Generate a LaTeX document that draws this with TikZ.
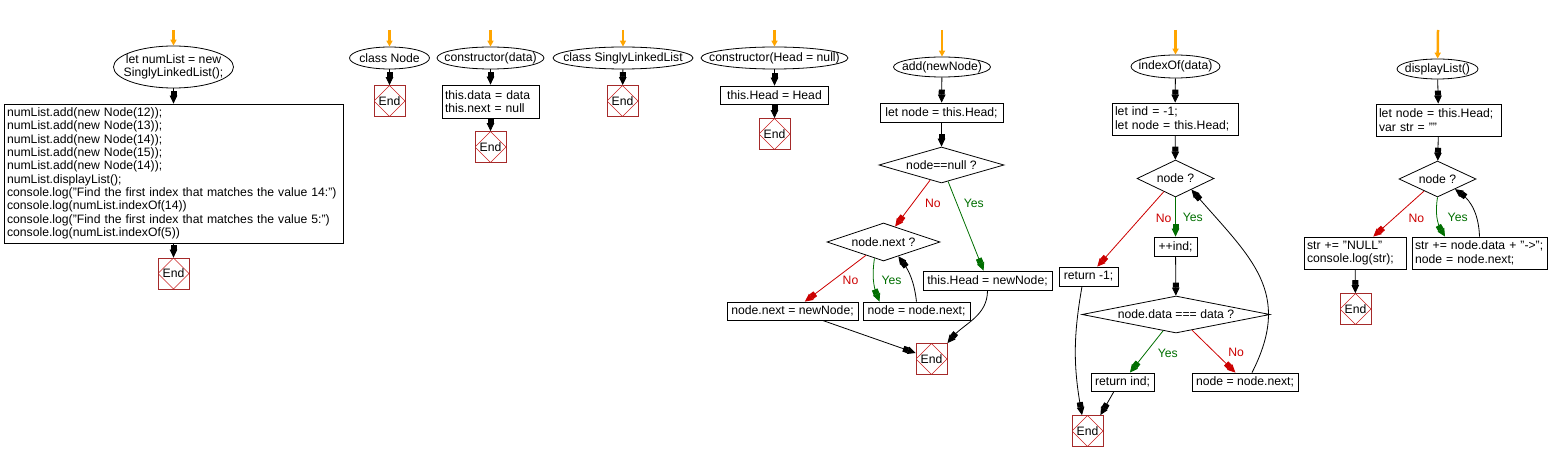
\documentclass[tikz,border=0pt]{standalone}
\usepackage{fontspec}
\setmainfont{Liberation Sans}
\usetikzlibrary{shapes.geometric,arrows.meta,positioning}

\definecolor{startor}{RGB}{255,165,0}
\definecolor{nored}{RGB}{204,0,0}
\definecolor{yesgreen}{RGB}{0,110,0}
\definecolor{endred}{RGB}{165,42,42}
\definecolor{endline}{RGB}{200,30,30}

% text wider than its ellipse
\newcommand{\nw}[1]{\makebox[0pt]{#1}}

\tikzset{
  every node/.style={font=\fontsize{12.2}{13.33}\selectfont},
  >={Rectangle[length=5pt,width=6pt]Triangle[length=8pt,width=7.5pt]},
  term/.style={ellipse,draw,inner sep=0pt,minimum height=22},
  proc/.style={rectangle,draw,inner sep=3pt,minimum height=19},
  dec/.style={diamond,draw,inner sep=0pt},
  endbox/.style={rectangle,draw=endred,minimum size=31,inner sep=0pt,
    path picture={\draw[endline,line width=0.6pt] (path picture bounding box.north)
      -- (path picture bounding box.east) -- (path picture bounding box.south)
      -- (path picture bounding box.west) -- cycle;}},
  entry/.style={startor,line width=2.5pt,-{Triangle[length=6pt,width=6pt]}},
  nolbl/.style={text=nored,inner sep=1pt},
  yeslbl/.style={text=yesgreen,inner sep=1pt}
}

\begin{document}
\begin{tikzpicture}[x=1pt,y=-1pt,line width=0.8pt]

\useasboundingbox (0,0) rectangle (1549,462);

% main program

\coordinate (t1) at (173.5,30);

\node[term,minimum width=120,minimum height=42,align=center] (s1) at (173.5,67) {\nw{let numList = new}\\\nw{SinglyLinkedList();}};

\node[proc,align=left,text width=333,minimum height=139] (b1) at (173.5,173.5) {numList.add(new Node(12));\\numList.add(new Node(13));\\numList.add(new Node(14));\\numList.add(new Node(15));\\numList.add(new Node(14));\\numList.displayList();\\console.log("Find the first index that matches the value 14:")\\console.log(numList.indexOf(14))\\console.log("Find the first index that matches the value 5:")\\console.log(numList.indexOf(5))};

\node[endbox] (e1) at (173.5,273.5) {End};

% class Node

\coordinate (t2) at (389.5,30);

\node[term,minimum width=80] (s2) at (389.5,58) {\nw{class Node}};

\node[endbox] (e2) at (389.5,101) {End};

% constructor(data)

\coordinate (t3) at (490.5,30);

\node[term,minimum width=107] (s3) at (490.5,58) {\nw{constructor(data)}};

\node[proc,align=left,text width=91,minimum height=33] (b3) at (490.5,101.5) {this.data = data\\this.next = null};

\node[endbox] (e3) at (490.5,147) {End};

% class SinglyLinkedList

\coordinate (t4) at (623,30);

\node[term,minimum width=140] (s4) at (623,58) {\nw{class SinglyLinkedList}};

\node[endbox] (e4) at (622.5,101) {End};

% constructor(Head = null)

\coordinate (t5) at (774.5,30);

\node[term,minimum width=147] (s5) at (774.5,58) {\nw{constructor(Head = null)}};

\node[proc,minimum width=108,minimum height=18] (b5) at (774.5,95) {this.Head = Head};

\node[endbox] (e5) at (774.5,134) {End};

% add(newNode)

\coordinate (t6) at (942,30);

\node[term,minimum width=97,minimum height=20] (s6) at (942,67) {\nw{add(newNode)}};

\node[proc,minimum width=123] (b6) at (941.5,112.5) {let node = this.Head;};

\node[dec,aspect=3.47,minimum width=125,minimum height=36] (d6) at (941.5,165) {node==null ?};

\node[dec,aspect=3,minimum width=113,minimum height=38] (d7) at (883.5,242) {node.next ?};

\node[proc,minimum width=129] (b7) at (987.5,280.5) {this.Head = newNode;};

\node[proc,minimum width=131,minimum height=18] (b8) at (792.5,311) {node.next = newNode;};

\node[proc,minimum width=107,minimum height=18] (b9) at (916.5,311) {node = node.next;};

\node[endbox] (e6) at (931.5,359) {End};

% indexOf(data)

\coordinate (t7) at (1175.5,30);

\node[term,minimum width=89,minimum height=23] (s7) at (1175.5,66.5) {\nw{indexOf(data)}};

\node[proc,align=left,text width=120,minimum height=32] (b10) at (1175,119) {let ind = -1;\\let node = this.Head;};

\node[dec,aspect=2.08,minimum width=77,minimum height=37] (d8) at (1175.5,178.5) {node ?};

\node[proc,minimum width=43] (b11) at (1175.5,246.5) {++ind;};

\node[proc,minimum width=59] (b12) at (1088.5,276.5) {return -1;};

\node[dec,aspect=5.1,minimum width=188,minimum height=37] (d9) at (1176,314.5) {node.data === data ?};

\node[proc,minimum width=63,minimum height=18] (b13) at (1122.5,382) {return ind;};

\node[proc,minimum width=106,minimum height=18] (b14) at (1245,382) {node = node.next;};

\node[endbox] (e7) at (1087.5,431) {End};

% displayList()

\coordinate (t8) at (1438,30);

\node[term,minimum width=81,minimum height=20] (s8) at (1437.5,69) {\nw{displayList()}};

\node[proc,align=left,text width=119,minimum height=32] (b15) at (1438.5,120) {let node = this.Head;\\var str = ""};

\node[dec,aspect=2.1,minimum width=77,minimum height=36] (d10) at (1437.5,179) {node ?};

\node[proc,align=left,text width=96,minimum height=32] (b16) at (1355,253) {str += "NULL"\\console.log(str);};

\node[proc,align=left,text width=129,minimum height=32] (b17) at (1479.5,253) {str += node.data + "->";\\node = node.next;};

\node[endbox] (e8) at (1355.5,309) {End};

\draw[]

  % entry arrows

  (t1) edge[entry] (s1)
  (t2) edge[entry] (s2)
  (t3) edge[entry] (s3)
  (t4) edge[entry] (s4)
  (t5) edge[entry] (s5)
  (t6) edge[entry] (s6)
  (t7) edge[entry] (s7)
  (t8) edge[entry] (s8)

  % main program

  (s1) edge[->] (b1)
  (b1) edge[->] (e1)

  % classes and constructors

  (s2) edge[->] (e2)
  (s3) edge[->] (b3)
  (b3) edge[->] (e3)
  (s4) edge[->] (e4)
  (s5) edge[->] (b5)
  (b5) edge[->] (e5)

  % From add to the null test

  (s6) edge[->] (b6)
  (b6) edge[->] (d6)

  % From node==null to node.next / this.Head

  (d6) edge[->,nored] node[nolbl,right=11pt] {No} (d7)
  (d6) edge[->,yesgreen] node[yeslbl,pos=0.25,right=5.5pt] {Yes} (b7)

  % From node.next to its two boxes

  (d7) edge[->,nored] node[nolbl,pos=0.55,right=9pt] {No} (b8)
  (d7.241) edge[->,yesgreen,bend right=15] node[yeslbl,right=6.5pt] {Yes} ([xshift=-37pt]b9.north)

  % back to node.next

  (b9.north) edge[->,bend right=15] (d7.316)

  % to End

  ([xshift=30pt]b8.south) edge[->] ([yshift=6pt]e6.west)
  (b7.south) edge[->,out=-90,in=50] (e6.north east)

  % From indexOf to the node test

  (s7) edge[->] (b10)
  (b10) edge[->] (d8)
  (d8) edge[->,yesgreen] node[yeslbl,right=6pt] {Yes} (b11)
  (d8) edge[->,nored] node[nolbl,pos=0.35,right=14pt] {No} (b12)

  % From ++ind to the data test

  (b11) edge[->] (d9)
  (d9) edge[->,yesgreen] node[yeslbl,pos=0.53,right=11pt] {Yes} (b13)
  (d9) edge[->,nored] node[nolbl,pos=0.53,right=12pt] {No} (b14)

  % back to node ?

  ([xshift=7pt]b14.north) edge[->,out=63,in=-49,looseness=1.2] (d8.325)

  % to End

  ([xshift=-6.5pt]b12.south) edge[->,bend right=10] ([xshift=-5.5pt]e7.north)
  ([xshift=-8.5pt]b13.south) edge[->] ([xshift=-3pt]e7.north east)

  % From displayList to the node test

  (s8) edge[->] (b15)
  (b15) edge[->] (d10)
  (d10) edge[->,nored] node[nolbl,pos=0.59,right=13pt] {No} (b16)
  (d10.south) edge[->,yesgreen,bend right=20] node[yeslbl,right=9pt] {Yes} ([xshift=-34.5pt]b17.north)

  % back to node ?

  (b17.north) edge[->,out=92,in=-36] (d10.330)

  % to End

  (b16) edge[->] (e8)

;

\end{tikzpicture}
\end{document}
